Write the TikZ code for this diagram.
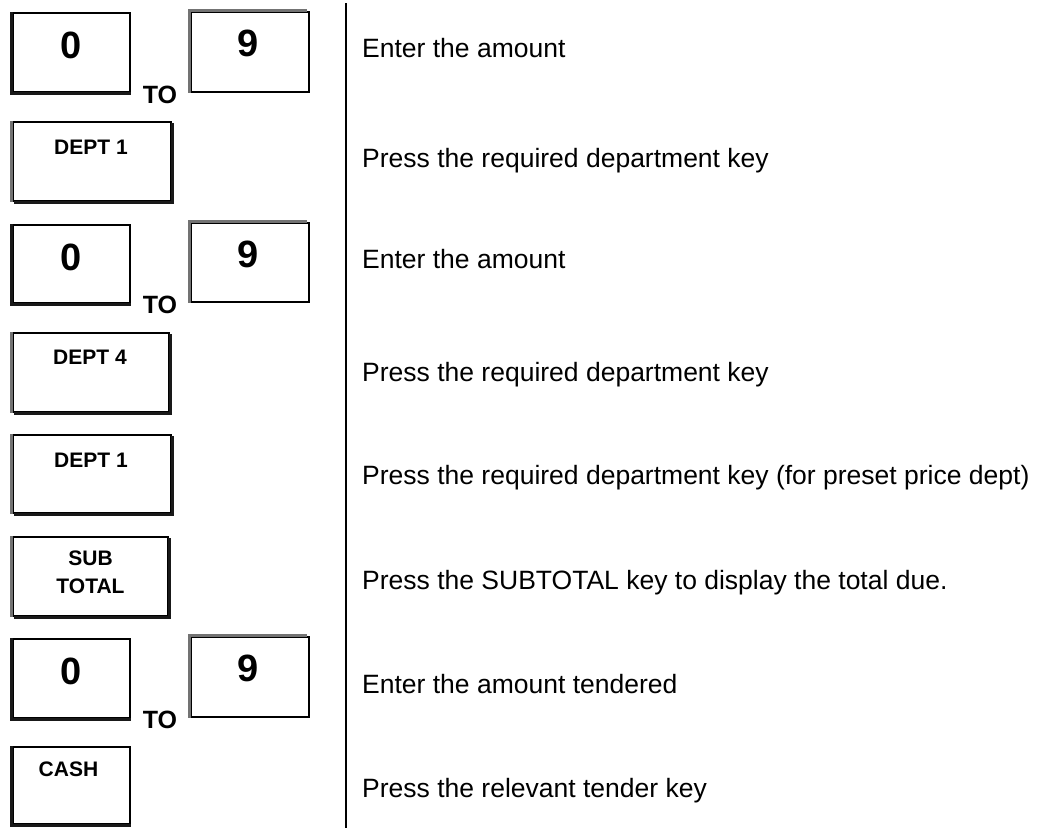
\documentclass[tikz,border=0pt]{standalone}
\usepackage{fontspec}
\setmainfont{Liberation Sans}
\usetikzlibrary{calc, positioning}

\tikzset{
  key/.style={draw, line width=1.2pt, fill=white, inner sep=0pt},
  keyedge/.style={line width=2.6pt, black!90},
  keygrey/.style={line width=2.6pt, black!55},
  keytxt/.style={font=\bfseries\fontsize{21}{28}\selectfont, align=center},
  digit/.style={font=\bfseries\fontsize{38}{40}\selectfont},
  totxt/.style={font=\bfseries\fontsize{25}{28}\selectfont},
  desc/.style={anchor=base west, inner sep=0pt, font=\fontsize{26.5}{32}\selectfont},
}

\begin{document}
\begin{tikzpicture}[x=1pt, y=-1pt]
    \useasboundingbox (0,0) rectangle (1040,828);

    % first amount
    \node[key, minimum width=117, minimum height=79] (a0) at (71.5, 52.5) {};
    \node[key, minimum width=118, minimum height=80] (a9) at (250, 52) {};
    \node[digit] (a0t) at ($(a0.north) + (0, 33)$) {0};
    \node[digit] (a9t) at ($(a9.north) + (-2, 32)$) {9};
    \node[totxt] (to1) at (160, 95) {TO};
    \draw[keyedge] ($(a0.north west) + (-1, 0)$) -- ($(a0.south west) + (-1, 1)$) -- ($(a0.south east) + (0, 1)$);
    \draw[keygrey] ($(a9.south west) + (-1, 0)$) -- ($(a9.north west) + (-1, -1)$) -- ($(a9.north east) + (-3, -1)$);

    % department 1
    \node[key, minimum width=158, minimum height=79] (d1) at (92, 161.5) {};
    \node[keytxt] (d1t) at ($(d1.north) + (-1, 26)$) {DEPT 1};
    \draw[keygrey] ($(d1.north west) + (-1, 0)$) -- ($(d1.south west) + (-1, 0)$);
    \draw[keyedge] ($(d1.north east) + (1, 2)$) -- ($(d1.south east) + (1, 1)$) -- ($(d1.south west) + (2, 1)$);

    % second amount
    \node[key, minimum width=117, minimum height=78] (b0) at (71.5, 264) {};
    \node[key, minimum width=118, minimum height=79] (b9) at (250, 262.5) {};
    \node[digit] (b0t) at ($(b0.north) + (0, 33)$) {0};
    \node[digit] (b9t) at ($(b9.north) + (-2, 32)$) {9};
    \node[totxt] (to2) at (160, 305) {TO};
    \draw[keyedge] ($(b0.north west) + (-1, 0)$) -- ($(b0.south west) + (-1, 1)$) -- ($(b0.south east) + (0, 1)$);
    \draw[keygrey] ($(b9.south west) + (-1, 0)$) -- ($(b9.north west) + (-1, -1)$) -- ($(b9.north east) + (-3, -1)$);

    % department 4
    \node[key, minimum width=156, minimum height=79] (d4) at (91, 372.5) {};
    \node[keytxt] (d4t) at ($(d4.north) + (-1, 25)$) {DEPT 4};
    \draw[keygrey] ($(d4.north west) + (-1, 0)$) -- ($(d4.south west) + (-1, 0)$);
    \draw[keyedge] ($(d4.north east) + (1, 2)$) -- ($(d4.south east) + (1, 1)$) -- ($(d4.south west) + (2, 1)$);

    % department 1, preset
    \node[key, minimum width=158, minimum height=78] (d1b) at (92, 474) {};
    \node[keytxt] (d1bt) at ($(d1b.north) + (-1, 26)$) {DEPT 1};
    \draw[keygrey] ($(d1b.north west) + (-1, 0)$) -- ($(d1b.south west) + (-1, 0)$);
    \draw[keyedge] ($(d1b.north east) + (1, 2)$) -- ($(d1b.south east) + (1, 1)$) -- ($(d1b.south west) + (2, 1)$);

    % subtotal
    \node[key, minimum width=155, minimum height=79] (st) at (90.5, 576.5) {};
    \node[keytxt] (stt) at ($(st.north) + (0, 36)$) {SUB\\TOTAL};
    \draw[keygrey] ($(st.north west) + (-1, 0)$) -- ($(st.south west) + (-1, 0)$);
    \draw[keyedge] ($(st.north east) + (1, 2)$) -- ($(st.south east) + (1, 1)$) -- ($(st.south west) + (2, 1)$);

    % amount tendered
    \node[key, minimum width=117, minimum height=79] (c0) at (71.5, 678.5) {};
    \node[key, minimum width=118, minimum height=80] (c9) at (250, 677) {};
    \node[digit] (c0t) at ($(c0.north) + (0, 33)$) {0};
    \node[digit] (c9t) at ($(c9.north) + (-2, 32)$) {9};
    \node[totxt] (to3) at (160, 720) {TO};
    \draw[keyedge] ($(c0.north west) + (-1, 0)$) -- ($(c0.south west) + (-1, 1)$) -- ($(c0.south east) + (0, 1)$);
    \draw[keygrey] ($(c9.south west) + (-1, 0)$) -- ($(c9.north west) + (-1, -1)$) -- ($(c9.north east) + (-3, -1)$);

    % cash
    \node[key, minimum width=117, minimum height=77] (cash) at (71.5, 785.5) {};
    \node[keytxt] (casht) at ($(cash.north) + (-3, 23)$) {CASH};
    \draw[keyedge] ($(cash.north west) + (-1, 0)$) -- ($(cash.south west) + (-1, 1)$) -- ($(cash.south east) + (0, 1)$);

    % divider
    \coordinate (top) at (346, 3);
    \coordinate (bot) at (346, 828);
    \draw[line width=2pt] (top) -- (bot);

    % descriptions
    \node[desc] (t1) at (362, 57) {Enter the amount};
    \node[desc] (t2) at (362, 167) {Press the required department key};
    \node[desc] (t3) at (362, 268) {Enter the amount};
    \node[desc] (t4) at (362, 381) {Press the required department key};
    \node[desc] (t5) at (362, 484) {Press the required department key (for preset price dept)};
    \node[desc] (t6) at (362, 589) {Press the SUBTOTAL key to display the total due.};
    \node[desc] (t7) at (362, 693) {Enter the amount tendered};
    \node[desc] (t8) at (362, 797) {Press the relevant tender key};
\end{tikzpicture}
\end{document}
